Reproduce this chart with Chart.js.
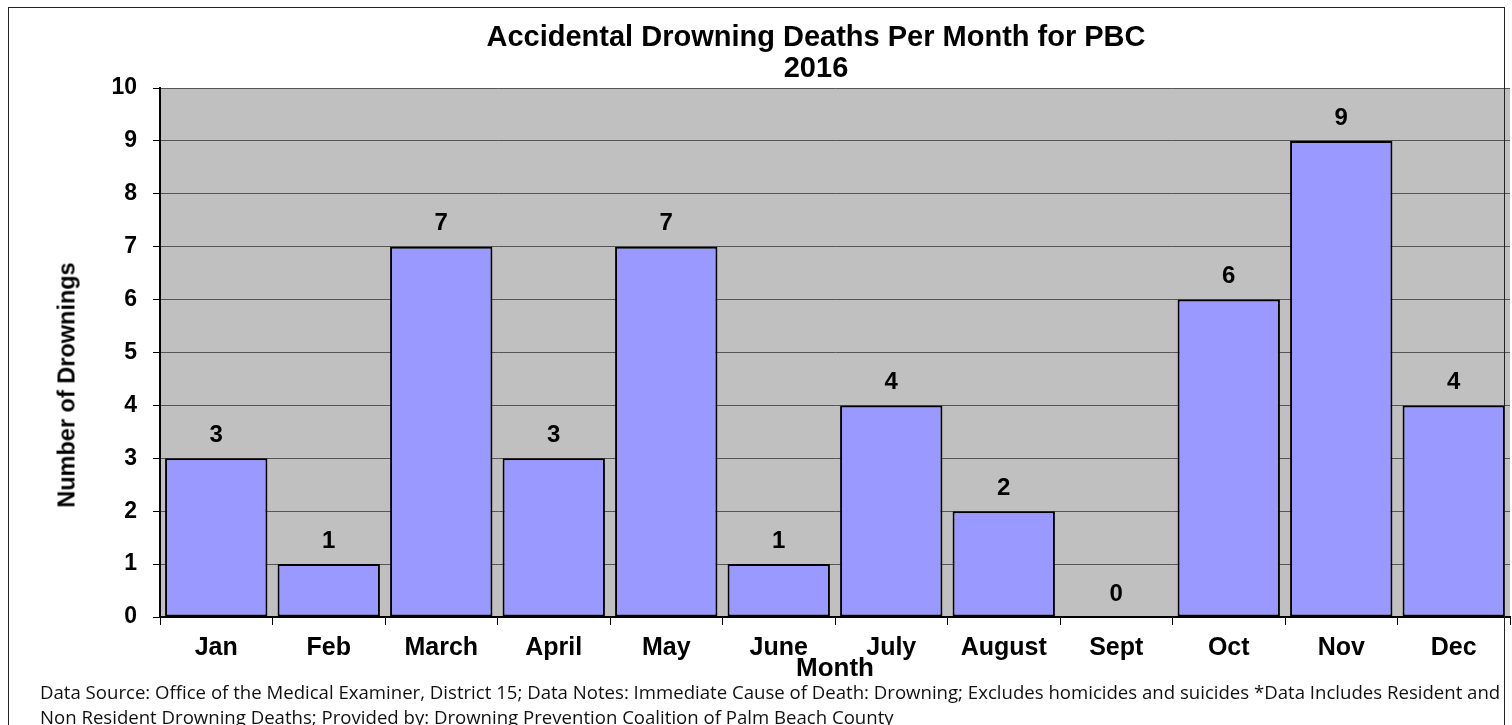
<!DOCTYPE html>
<html lang="en">
<head>
    <meta charset="UTF-8">
    <title>Accidental Drowning Deaths Per Month for PBC 2016</title>
    <script src="https://cdn.jsdelivr.net/npm/chart.js"></script>
    <style>
        body { margin: 0; background: #fff; }
        #wrap { position: relative; width: 1512px; height: 725px; overflow: hidden; background: #fff; }
        #chart { position: absolute; left: 0; top: 0; }
        #frame { position: absolute; left: 8px; top: 7px; width: 1495px; height: 740px; border: 1.5px solid #222; pointer-events: none; }
        .title { position: absolute; left: 816px; transform: translateX(-50%); font: bold 29px "Liberation Sans", Arial, sans-serif; line-height: 33px; white-space: nowrap; color: #000; }
        #ytitle { position: absolute; left: 67px; top: 385px; transform: translate(-50%, -50%) rotate(-90deg); font: bold 23.5px "Liberation Sans", Arial, sans-serif; white-space: nowrap; }
        #note { position: absolute; left: 40px; top: 679px; font: 18.6px "Open Sans", sans-serif; line-height: 25px; white-space: nowrap; color: #111; }
    </style>
</head>
<body>
<div id="wrap">
    <canvas id="chart" width="1512" height="725"></canvas>
    <div class="title" style="top: 20px;">Accidental Drowning Deaths Per Month for PBC</div>
    <div class="title" style="top: 51px;">2016</div>
    <div id="ytitle">Number of Drownings</div>
    <div id="note">Data Source: Office of the Medical Examiner, District 15; Data Notes: Immediate Cause of Death: Drowning; Excludes homicides and suicides *Data Includes Resident and<br>Non Resident Drowning Deaths; Provided by: Drowning Prevention Coalition of Palm Beach County</div>
    <div id="frame"></div>
</div>
<script>
    const months = ['Jan', 'Feb', 'March', 'April', 'May', 'June', 'July', 'August', 'Sept', 'Oct', 'Nov', 'Dec'];
    const drownings = [3, 1, 7, 3, 7, 1, 4, 2, 0, 6, 9, 4];
    const yTicks = [0, 1, 2, 3, 4, 5, 6, 7, 8, 9, 10];

    const fontFamily = '"Liberation Sans", Arial, sans-serif';

    // gray plot background
    const plotBg = {
        id: 'plotBg',
        beforeDraw(chart) {
            const { ctx, chartArea: a } = chart;
            ctx.save();
            ctx.fillStyle = '#C0C0C0';
            ctx.fillRect(a.left, a.top, a.right - a.left, a.bottom - a.top);
            ctx.restore();
        }
    };

    // values above bars
    const valueLabels = {
        id: 'valueLabels',
        afterDatasetsDraw(chart) {
            const ctx = chart.ctx;
            const meta = chart.getDatasetMeta(0);
            ctx.save();
            ctx.font = 'bold 24px ' + fontFamily;
            ctx.fillStyle = '#000';
            ctx.textAlign = 'center';
            ctx.textBaseline = 'middle';
            meta.data.forEach((bar, i) => {
                ctx.fillText(drownings[i], bar.x, bar.y - 23);
            });
            ctx.restore();
        }
    };

    new Chart(document.getElementById('chart').getContext('2d'), {
        type: 'bar',
        data: {
            labels: months,
            datasets: [{
                data: drownings,
                backgroundColor: '#9999FF',
                borderColor: '#000',
                borderWidth: 2,
                borderSkipped: false,
                barPercentage: 0.91,
                categoryPercentage: 1
            }]
        },
        options: {
            responsive: false,
            animation: false,
            layout: { padding: { top: 88, left: 0, right: 2, bottom: 38 } },
            plugins: { legend: { display: false }, tooltip: { enabled: false } },
            scales: {
                x: {
                    afterFit(scale) { scale.height = 70; },
                    grid: { drawOnChartArea: false, tickLength: 8, tickColor: '#000', offset: true },
                    border: { color: '#000', width: 2 },
                    ticks: { color: '#000', font: { family: fontFamily, weight: 'bold', size: 25 }, padding: 8, maxRotation: 0, autoSkip: false },
                    title: { display: true, text: 'Month', color: '#000', font: { family: fontFamily, weight: 'bold', size: 26 }, padding: { top: 0, bottom: 3 } }
                },
                y: {
                    min: 0,
                    max: 10,
                    afterFit(scale) { scale.width = 160; },
                    afterBuildTicks(scale) { scale.ticks = yTicks.map(v => ({ value: v })); },
                    grid: { color: '#555', lineWidth: 1, tickLength: 7, tickColor: '#000' },
                    border: { color: '#000', width: 2 },
                    ticks: { color: '#000', font: { family: fontFamily, weight: 'bold', size: 23 }, padding: 16 }
                }
            }
        },
        plugins: [plotBg, valueLabels]
    });
</script>
</body>
</html>
